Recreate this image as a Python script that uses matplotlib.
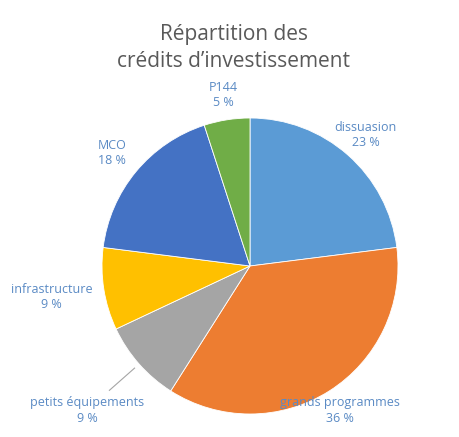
import matplotlib.pyplot as plt

labels = ['dissuasion', 'grands programmes', 'petits équipements',
          'infrastructure', 'MCO', 'P144']
values = [23, 36, 9, 9, 18, 5]
colors = ['#5B9BD5', '#ED7D31', '#A5A5A5', '#FFC000', '#4472C4', '#70AD47']
# label anchor points (data units, pie radius = 1)
label_pos = [(0.78, 0.885), (0.61, -0.975), (-1.10, -0.975),
             (-1.34, -0.21), (-0.93, 0.765), (-0.18, 1.155)]

plt.rcParams['font.family'] = ['Open Sans', 'DejaVu Sans']

fig = plt.figure(figsize=(4.6, 4.37), dpi=100)
ax = fig.add_axes([102 / 460, 23 / 437, 296 / 460, 296 / 437])

ax.pie(values, colors=colors, startangle=90, counterclock=False, radius=1,
       wedgeprops=dict(edgecolor='white', linewidth=0.6))
ax.set_xlim(-1, 1)
ax.set_ylim(-1, 1)
ax.set_aspect('equal')
ax.axis('off')

for name, v, (x, y) in zip(labels, values, label_pos):
    ax.text(x, y, f'{name}\n{v} %', ha='center', va='center', fontsize=9,
            color='#5A8AC4', linespacing=1.25, clip_on=False)

# leader line for petits équipements
ax.plot([-0.95, -0.78], [-0.84, -0.69], color='#A5A5A5', lw=0.8, clip_on=False)

fig.text(234 / 460, 1 - 48 / 437, 'Répartition des\ncrédits d’investissement',
         ha='center', va='center', fontsize=15, color='#595959', linespacing=1.35)

fig.savefig('out.png', dpi=100)
